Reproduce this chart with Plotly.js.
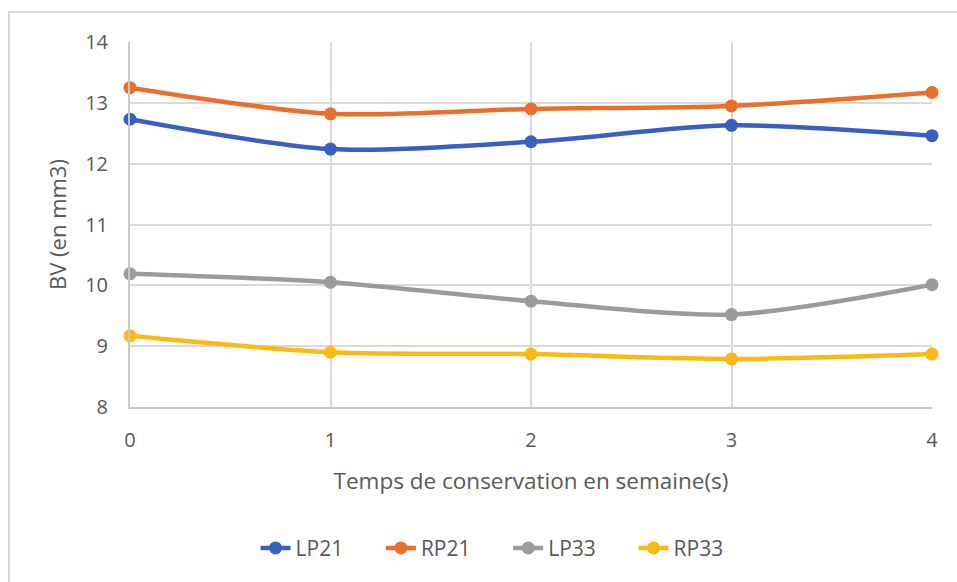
<!DOCTYPE html>
<html>
<head>
<meta charset="utf-8">
<script src="https://cdn.plot.ly/plotly-3.0.1.min.js"></script>
<style>
html,body{margin:0;padding:0;background:#fff;overflow:hidden;}
#chart{position:absolute;left:0;top:0;width:957px;height:582px;}
#frame{position:absolute;left:8px;top:11px;width:1100px;height:800px;border:2px solid #d9d9d9;pointer-events:none;}
</style>
</head>
<body>
<div id="chart"></div>
<div id="frame"></div>
<script>
var weeks = [0, 1, 2, 3, 4];
var LP21 = [12.73, 12.24, 12.36, 12.63, 12.46];
var RP21 = [13.25, 12.82, 12.90, 12.95, 13.17];
var LP33 = [10.19, 10.05, 9.74, 9.52, 10.01];
var RP33 = [9.17, 8.90, 8.87, 8.79, 8.87];
var seriesNames = ['LP21', 'RP21', 'LP33', 'RP33'];
var xTitle = 'Temps de conservation en semaine(s)';
var yTitle = 'BV (en mm3)';

var colors = ['#3A5FC2', '#EA6F2A', '#9B9B9B', '#FDB913'];
var pad = '\u00a0\u00a0\u00a0\u00a0\u00a0\u00a0';
var data = [LP21, RP21, LP33, RP33].map(function (vals, i) {
  return {
    x: weeks, y: vals, name: seriesNames[i] + pad, type: 'scatter', mode: 'lines+markers',
    line: {color: colors[i], width: 4.5, shape: 'spline', smoothing: 0.8},
    marker: {color: colors[i], size: 13},
    cliponaxis: false
  };
});

var fontFam = '"Open Sans", "Liberation Sans", sans-serif';
var layout = {
  width: 957, height: 582,
  paper_bgcolor: '#ffffff', plot_bgcolor: '#ffffff',
  margin: {l: 130, r: 25, t: 42, b: 175},
  font: {family: fontFam, size: 20, color: '#595959'},
  showlegend: true,
  legend: {orientation: 'h', x: 0.472, xanchor: 'center', y: -0.387, yanchor: 'middle',
           font: {size: 21, color: '#595959'}, itemwidth: 30},
  xaxis: {
    range: [0, 4], tickvals: weeks, ticktext: weeks.map(String),
    showgrid: true, gridcolor: '#d9d9d9', gridwidth: 2,
    showline: true, linecolor: '#c8c8c8', linewidth: 2,
    zeroline: false, ticks: '', ticklabelstandoff: 14,
    tickfont: {size: 20, color: '#595959'},
    title: {text: xTitle, font: {size: 22.5, color: '#595959'}, standoff: 21}
  },
  yaxis: {
    range: [8, 14], dtick: 1,
    showgrid: true, gridcolor: '#d9d9d9', gridwidth: 2,
    showline: true, linecolor: '#c8c8c8', linewidth: 2,
    zeroline: false, ticks: '', ticklabelstandoff: 16,
    tickfont: {size: 20, color: '#595959'},
    title: {text: yTitle, font: {size: 22, color: '#595959'}, standoff: 12}
  }
};
Plotly.newPlot('chart', data, layout, {displayModeBar: false, staticPlot: true});
</script>
</body>
</html>
